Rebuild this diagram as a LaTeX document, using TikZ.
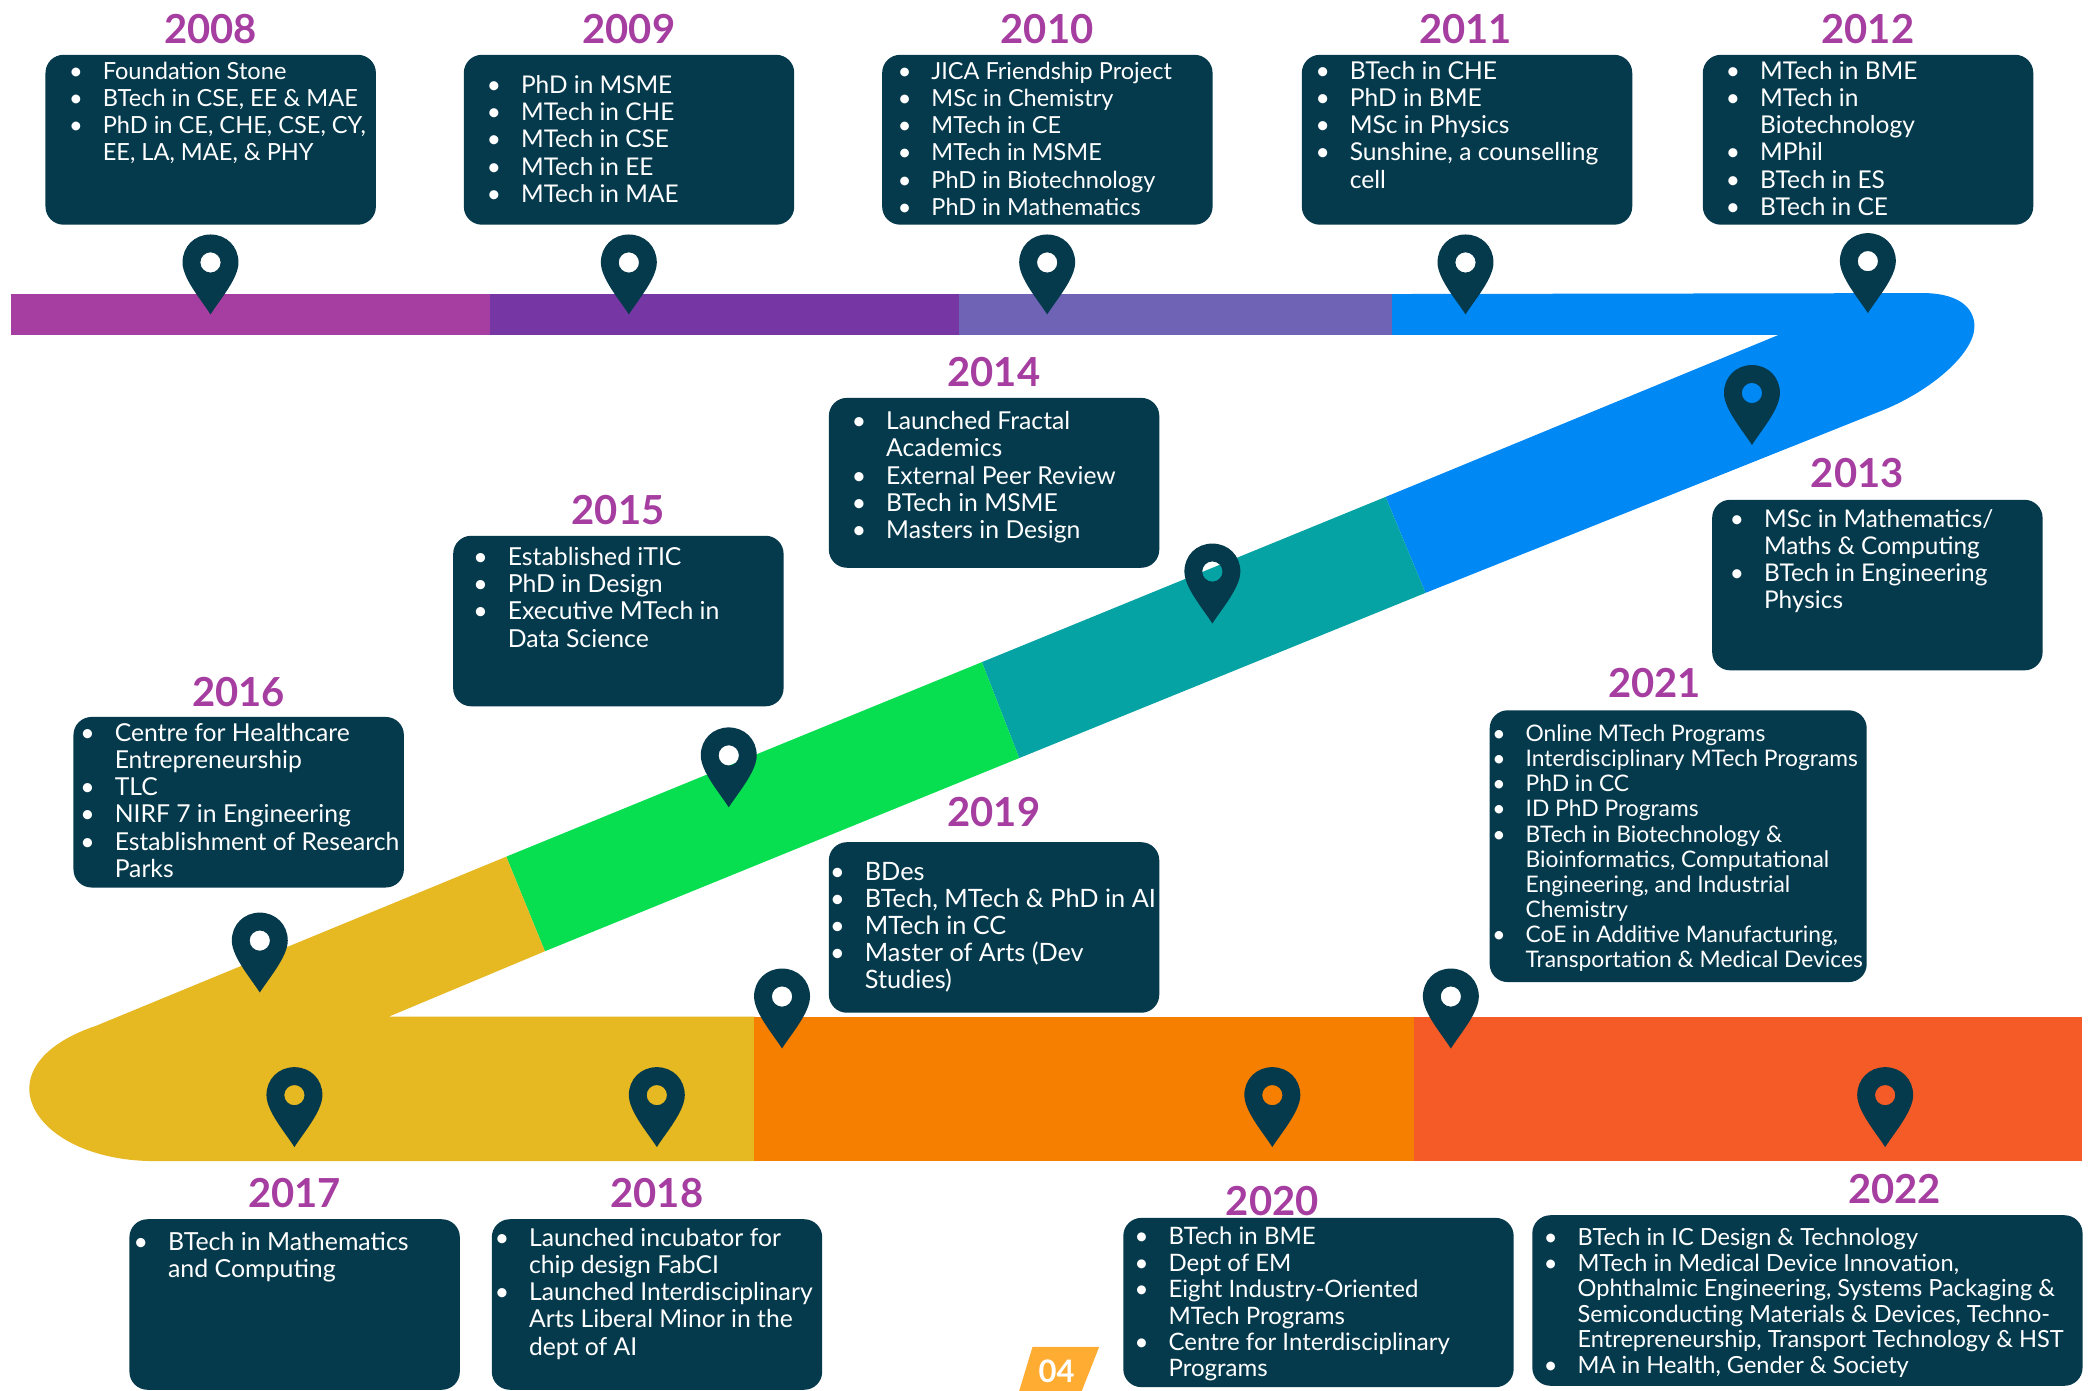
\documentclass[tikz,border=0pt]{standalone}
\usepackage{fontspec}
\setmainfont{Lato}
\definecolor{cMag}{HTML}{A63DA0}
\definecolor{cPur}{HTML}{7636A3}
\definecolor{cVio}{HTML}{6E63B5}
\definecolor{cBlu}{HTML}{0088F5}
\definecolor{cTea}{HTML}{05A3A3}
\definecolor{cGre}{HTML}{07DF50}
\definecolor{cYel}{HTML}{E6B822}
\definecolor{cOra}{HTML}{F77F00}
\definecolor{cRed}{HTML}{F45B26}
\definecolor{cDark}{HTML}{053A4D}
\definecolor{cTag}{HTML}{FFAC33}
\newlength{\bulgap}\setlength{\bulgap}{20pt}
\newcommand{\ls}{\rule{0pt}{20pt}}
\newcommand{\bl}[1]{\ls\llap{•\hspace{\bulgap}}#1}
\newcommand{\cl}[1]{\ls #1}
\tikzset{
  panel/.style={fill=cDark,rounded corners=18pt,inner sep=0pt,anchor=north west},
  listtext/.style 2 args={text=white,inner sep=0pt,anchor=north west,align=left,font=\fontsize{#1}{#2}\selectfont},
  yearlabel/.style={text=cMag,inner sep=0pt,font=\bfseries\fontsize{40}{40}\selectfont},
  pinmark/.pic={
    \fill[cDark,even odd rule] (0,0) .. controls (-7,-11) and (-21,-27) .. (-21,-39)
      .. controls (-21,-51) and (-12,-60) .. (0,-60)
      .. controls (12,-60) and (21,-51) .. (21,-39)
      .. controls (21,-27) and (7,-11) .. (0,0) -- cycle
      (0,-39) circle[radius=7.6];
  }
}
\newcommand{\panelbox}[5]{%
  \pgfmathsetmacro{\pw}{(#4-#2)*1.3323}\pgfmathsetmacro{\ph}{(#5-#3)*1.3323}%
  \node[panel,minimum width=\pw pt,minimum height=\ph pt] (#1) at (#2,#3) {};}
\begin{document}
\begin{tikzpicture}[x=1.3323pt,y=-1.3323pt]
\useasboundingbox (0,0) rectangle (1568,1044);
\fill[white] (0,0) rectangle (1568,1044);
% bands
\fill[cMag] (8,220.7) rectangle (368.5,251.4);
\fill[cPur] (368,220.7) rectangle (720.5,251.4);
\fill[cVio] (720,220.7) rectangle (1045.5,251.4);
\fill[cBlu] (1045,220.7) -- (1439,220) .. controls (1470,219) and (1482,231) .. (1482,245)
  .. controls (1482,265) and (1450,293) .. (1413,308) -- (1070,445) -- (1040,373) -- (1335,251.4) -- (1045,251.4) -- cycle;
\fill[cTea] (1040,373) -- (1070,445) -- (765,569) -- (737,497) -- cycle;
\fill[cGre] (737,497) -- (765,569) -- (409,714) -- (380,643) -- cycle;
\fill[cYel] (380,643) -- (72,770) .. controls (42,780) and (22,797) .. (22,817)
  .. controls (22,845) and (60,871.5) .. (116,871.5) -- (566.5,871.5) -- (566.5,763) -- (292,763) -- (409,714) -- cycle;
\fill[cOra] (566,763) rectangle (1061.5,871.5);
\fill[cRed] (1061,763) rectangle (1563,871.5);
% pins
\foreach \px/\py in {158/236,472/236,786/236,1100/236,1402/235,1315/334,910/468,547/606,195/745,221/861,493/861,587/787,955/861,1089/787,1415/861}
  \pic at (\px,\py) {pinmark};
% boxes
\panelbox{b2008}{34}{41}{282}{168.5}
\panelbox{b2009}{348}{41}{596}{168.5}
\panelbox{b2010}{662}{41}{910}{168.5}
\panelbox{b2011}{977}{41}{1225}{168.5}
\panelbox{b2012}{1278}{41}{1526}{168.5}
\panelbox{b2014}{622}{298.5}{870}{426}
\panelbox{b2015}{340}{402}{588}{530}
\panelbox{b2013}{1285}{375}{1533}{503}
\panelbox{b2016}{55}{538}{303}{666}
\panelbox{b2021}{1118}{533}{1401}{737}
\panelbox{b2019}{622}{632}{870}{760}
\panelbox{b2017}{97}{915}{345}{1043}
\panelbox{b2018}{369}{915}{617}{1043}
\panelbox{b2020}{843}{914}{1136}{1041}
\panelbox{b2022}{1150}{912}{1563}{1040}
% years
\node[yearlabel] (y2008) at (158,21.7) {2008};
\node[yearlabel] (y2009) at (472,21.7) {2009};
\node[yearlabel] (y2010) at (786,21.7) {2010};
\node[yearlabel] (y2011) at (1100,21.7) {2011};
\node[yearlabel] (y2012) at (1402,21.7) {2012};
\node[yearlabel] (y2013) at (1394,354.7) {2013};
\node[yearlabel] (y2014) at (746,279.5) {2014};
\node[yearlabel] (y2015) at (464,382.7) {2015};
\node[yearlabel] (y2016) at (179,519.7) {2016};
\node[yearlabel] (y2021) at (1242,512.7) {2021};
\node[yearlabel] (y2019) at (746,609.7) {2019};
\node[yearlabel] (y2017) at (221,895.7) {2017};
\node[yearlabel] (y2018) at (493,895.7) {2018};
\node[yearlabel] (y2020) at (955,901.7) {2020};
\node[yearlabel] (y2022) at (1422,892.7) {2022};
% lists
\node[listtext={23.6}{27.2}] (t2008) at (77,44.3) {\bl{Foundation Stone}\\\bl{BTech in CSE, EE \& MAE}\\\bl{PhD in CE, CHE, CSE, CY,}\\\cl{EE, LA, MAE, \& PHY}};
\node[listtext={24.4}{27.2}] (t2009) at (391,55) {\bl{PhD in MSME}\\\bl{MTech in CHE}\\\bl{MTech in CSE}\\\bl{MTech in EE}\\\bl{MTech in MAE}};
\node[listtext={23.5}{27.2}] (t2010) at (699,44.3) {\bl{JICA Friendship Project}\\\bl{MSc in Chemistry}\\\bl{MTech in CE}\\\bl{MTech in MSME}\\\bl{PhD in Biotechnology}\\\bl{PhD in Mathematics}};
\node[listtext={24.6}{27.2}] (t2011) at (1013,44.3) {\bl{BTech in CHE}\\\bl{PhD in BME}\\\bl{MSc in Physics}\\\bl{Sunshine, a counselling}\\\cl{cell}};
\node[listtext={24.5}{27.2}] (t2012) at (1321,44.3) {\bl{MTech in BME}\\\bl{MTech in}\\\cl{Biotechnology}\\\bl{MPhil}\\\bl{BTech in ES}\\\bl{BTech in CE}};
\node[listtext={24.7}{27.2}] (t2014) at (665,307.3) {\bl{Launched Fractal}\\\cl{Academics}\\\bl{External Peer Review}\\\bl{BTech in MSME}\\\bl{Masters in Design}};
\node[listtext={24.8}{27.2}] (t2015) at (381,409.3) {\bl{Established iTIC}\\\bl{PhD in Design}\\\bl{Executive MTech in}\\\cl{Data Science}};
\node[listtext={24.4}{27.2}] (t2013) at (1324,380.7) {\bl{MSc in Mathematics/}\\\cl{Maths \& Computing}\\\bl{BTech in Engineering}\\\cl{Physics}};
\node[listtext={24.7}{27.2}] (t2016) at (86,541.3) {\bl{Centre for Healthcare}\\\cl{Entrepreneurship}\\\bl{TLC}\\\bl{NIRF 7 in Engineering}\\\bl{Establishment of Research}\\\cl{Parks}};
\node[listtext={22.8}{25.1}] (t2021) at (1145,541.5) {\bl{Online MTech Programs}\\\bl{Interdisciplinary MTech Programs}\\\bl{PhD in CC}\\\bl{ID PhD Programs}\\\bl{BTech in Biotechnology \&}\\\cl{Bioinformatics, Computational}\\\cl{Engineering, and Industrial}\\\cl{Chemistry}\\\bl{CoE in Additive Manufacturing,}\\\cl{Transportation \& Medical Devices}};
\node[listtext={25.3}{27.2}] (t2019) at (649,645.5) {\bl{BDes}\\\bl{BTech, MTech \& PhD in AI}\\\bl{MTech in CC}\\\bl{Master of Arts (Dev}\\\cl{Studies)}};
\node[listtext={24.9}{27.2}] (t2017) at (126,923.3) {\bl{BTech in Mathematics}\\\cl{and Computing}};
\node[listtext={24.7}{27.2}] (t2018) at (397,920.3) {\bl{Launched incubator for}\\\cl{chip design FabCI}\\\bl{Launched Interdisciplinary}\\\cl{Arts Liberal Minor in the}\\\cl{dept of AI}};
\node[listtext={24}{26.4}] (t2020) at (877,919.3) {\bl{BTech in BME}\\\bl{Dept of EM}\\\bl{Eight Industry-Oriented}\\\cl{MTech Programs}\\\bl{Centre for Interdisciplinary}\\\cl{Programs}};
\node[listtext={23.6}{25.5}] (t2022) at (1184,920) {\bl{BTech in IC Design \& Technology}\\\bl{MTech in Medical Device Innovation,}\\\cl{Ophthalmic Engineering, Systems Packaging \&}\\\cl{Semiconducting Materials \& Devices, Techno-}\\\cl{Entrepreneurship, Transport Technology \& HST}\\\bl{MA in Health, Gender \& Society}};
% page tag
\fill[cTag] (775,1011) -- (825,1011) -- (812,1044) -- (765,1044) -- cycle;
\node[text=white,inner sep=0pt,font=\bfseries\fontsize{31}{31}\selectfont] (tag) at (793,1029) {04};
\end{tikzpicture}
\end{document}
